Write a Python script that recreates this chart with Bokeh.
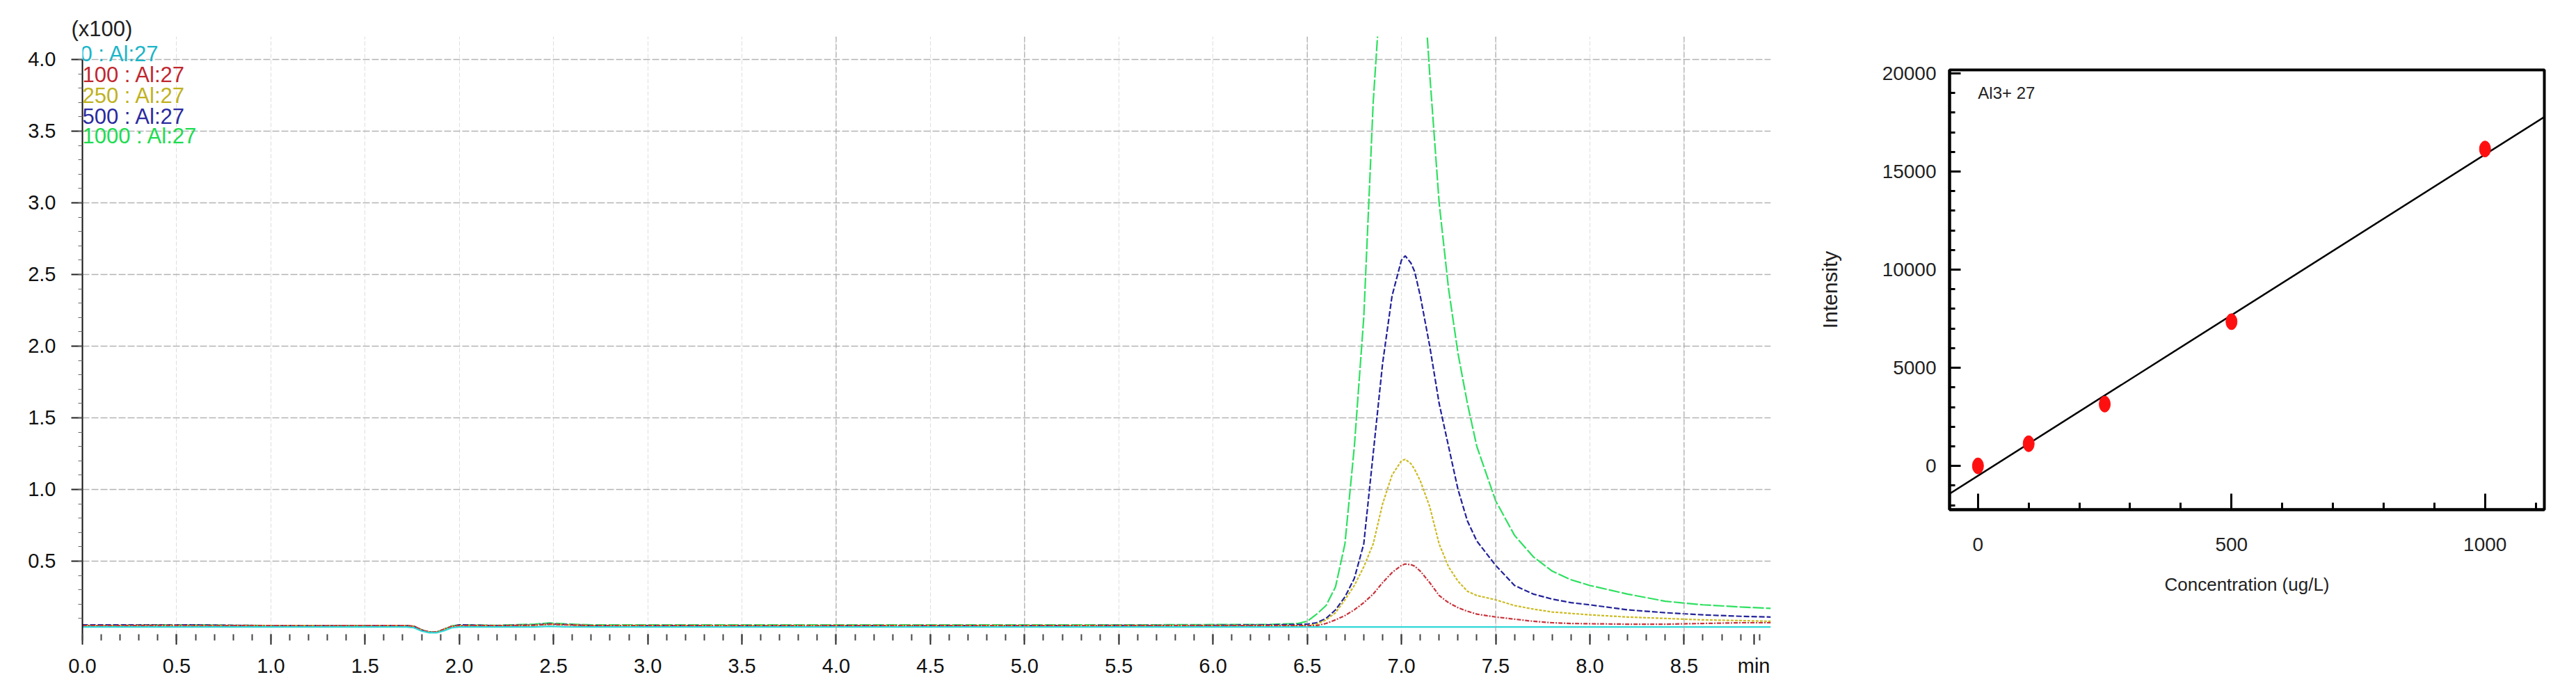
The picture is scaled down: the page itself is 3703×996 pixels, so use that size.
import numpy as np
from bokeh.plotting import figure
from bokeh.models import Range1d, FixedTicker, Label, Span, NumeralTickFormatter
from bokeh.embed import file_html
from bokeh.resources import INLINE

# ---------------- chromatogram data (intensity in x100 counts) ----------------
time_min = [0.0, 0.2, 0.4, 0.6, 0.8, 1.0, 1.2, 1.4, 1.6, 1.72, 1.76, 1.8, 1.84, 1.88, 1.92, 1.96,
            2.0, 2.2, 2.4, 2.48, 2.56, 2.7, 3.0, 3.3, 3.6, 4.0, 4.4, 4.8, 5.2, 5.6, 6.0, 6.3, 6.45,
            6.5, 6.55, 6.6, 6.65, 6.7, 6.75, 6.8, 6.85, 6.9, 6.95,
            7.0, 7.02, 7.05, 7.07, 7.1, 7.15, 7.2, 7.25, 7.3, 7.35, 7.4,
            7.5, 7.6, 7.7, 7.8, 7.9, 8.0, 8.2, 8.4, 8.6, 8.8, 8.96]

sig_0 = [0.04, 0.04, 0.04, 0.04, 0.04, 0.04, 0.04, 0.04, 0.04, 0.04, 0.035, 0.012, 0.0, 0.0, 0.015, 0.035,
         0.04, 0.04, 0.04, 0.045, 0.042, 0.04, 0.04, 0.04, 0.04, 0.04, 0.04, 0.04, 0.04, 0.04, 0.04, 0.04, 0.04,
         0.04, 0.04, 0.04, 0.04, 0.04, 0.04, 0.04, 0.04, 0.04, 0.04,
         0.04, 0.04, 0.04, 0.04, 0.04, 0.04, 0.04, 0.04, 0.04, 0.04, 0.04,
         0.04, 0.04, 0.04, 0.04, 0.04, 0.04, 0.04, 0.04, 0.04, 0.04, 0.04]

sig_100 = [0.05, 0.05, 0.05, 0.048, 0.05, 0.05, 0.048, 0.05, 0.05, 0.05, 0.045, 0.02, 0.005, 0.005, 0.025, 0.045,
           0.05, 0.05, 0.052, 0.06, 0.055, 0.05, 0.05, 0.05, 0.048, 0.05, 0.05, 0.05, 0.05, 0.05, 0.05, 0.05, 0.05,
           0.05, 0.05, 0.065, 0.09, 0.12, 0.16, 0.21, 0.27, 0.35, 0.42,
           0.47, 0.48, 0.475, 0.465, 0.43, 0.35, 0.26, 0.21, 0.175, 0.15, 0.13,
           0.11, 0.095, 0.08, 0.07, 0.065, 0.063, 0.06, 0.06, 0.065, 0.07, 0.07]

sig_250 = [0.05, 0.05, 0.052, 0.05, 0.05, 0.05, 0.05, 0.048, 0.05, 0.05, 0.045, 0.02, 0.005, 0.005, 0.025, 0.045,
           0.05, 0.05, 0.052, 0.06, 0.056, 0.05, 0.05, 0.05, 0.05, 0.05, 0.05, 0.05, 0.05, 0.05, 0.05, 0.05, 0.05,
           0.05, 0.06, 0.09, 0.14, 0.23, 0.33, 0.46, 0.62, 0.90, 1.10,
           1.20, 1.21, 1.18, 1.14, 1.06, 0.88, 0.62, 0.46, 0.36, 0.29, 0.26,
           0.23, 0.19, 0.165, 0.145, 0.135, 0.125, 0.11, 0.10, 0.09, 0.085, 0.08]

sig_500 = [0.055, 0.055, 0.055, 0.055, 0.052, 0.05, 0.05, 0.05, 0.05, 0.05, 0.045, 0.02, 0.005, 0.005, 0.025, 0.045,
           0.055, 0.05, 0.055, 0.062, 0.058, 0.05, 0.05, 0.05, 0.05, 0.05, 0.05, 0.05, 0.05, 0.052, 0.052, 0.055, 0.058,
           0.06, 0.07, 0.10, 0.16, 0.25, 0.38, 0.62, 1.25, 1.88, 2.35,
           2.60, 2.63, 2.58, 2.52, 2.35, 2.00, 1.60, 1.30, 1.00, 0.78, 0.64,
           0.47, 0.33, 0.27, 0.235, 0.21, 0.195, 0.16, 0.14, 0.125, 0.115, 0.11]

sig_1000 = [0.05, 0.052, 0.055, 0.055, 0.052, 0.05, 0.05, 0.05, 0.05, 0.05, 0.045, 0.02, 0.005, 0.005, 0.025, 0.048,
            0.055, 0.052, 0.06, 0.068, 0.062, 0.055, 0.055, 0.055, 0.055, 0.055, 0.055, 0.055, 0.055, 0.055, 0.057, 0.058, 0.065,
            0.08, 0.13, 0.19, 0.32, 0.62, 1.3, 2.2, 3.7, 4.7, 5.4,
            5.7, 5.75, 5.65, 5.5, 4.9, 3.9, 3.0, 2.4, 1.95, 1.6, 1.3,
            0.92, 0.68, 0.53, 0.43, 0.37, 0.33, 0.27, 0.22, 0.195, 0.18, 0.17]

series_labels = ["0 : Al:27", "100 : Al:27", "250 : Al:27", "500 : Al:27", "1000 : Al:27"]
x_tick_values = [0.0, 0.5, 1.0, 1.5, 2.0, 2.5, 3.0, 3.5, 4.0, 4.5, 5.0, 5.5, 6.0, 6.5, 7.0, 7.5, 8.0, 8.5]
y_tick_values = [0.5, 1.0, 1.5, 2.0, 2.5, 3.0, 3.5, 4.0]
x_unit_label = "min"
y_scale_label = "(x100)"

# ---------------- calibration data ----------------
conc = [0, 100, 250, 500, 1000]
intensity = [0, 1130, 3150, 7350, 16150]
cal_y_ticks = [0, 5000, 10000, 15000, 20000]
cal_x_ticks = [0, 500, 1000]

# ---------------- styles ----------------
line_colors = ["#2fd8d8", "#c8333b", "#cdbb22", "#22229a", "#2ee060"]
text_colors = ["#1cb5c8", "#c0282f", "#bfb21e", "#2a2aa0", "#1edc50"]
line_dashes = ["solid", "6 2 2 2", "4 2", "8 3", "16 3"]
FONT = "Liberation Sans"
unit_pos = 8.87

# ================= chromatogram =================
x_lo, x_hi = 0.0, 8.96
y_lo, y_hi = -0.01, 4.16
p1 = figure(width=2600, height=990, output_backend="svg", toolbar_location=None,
            x_range=Range1d(x_lo, x_hi), y_range=Range1d(y_lo, y_hi),
            min_border_left=118, min_border_right=55, min_border_top=52, min_border_bottom=79)
p1.styles = {"position": "absolute", "left": "0px", "top": "0px"}
p1.outline_line_color = None
p1.background_fill_color = "white"
p1.border_fill_color = "white"

# "(x100)" multiplier shown as a left-aligned title just above the frame
p1.title.text = y_scale_label
p1.title.align = "left"
p1.title.offset = -16
p1.title.standoff = -12
p1.title.text_font = FONT
p1.title.text_font_size = "31px"
p1.title.text_font_style = "normal"
p1.title.text_color = "#222222"

minor_x = [round(v, 1) for v in np.arange(0.0, 9.0, 0.1)]
minor_y = [round(v, 1) for v in np.arange(0.1, 4.1, 0.1)]
p1.xaxis.ticker = FixedTicker(ticks=x_tick_values + [unit_pos], minor_ticks=minor_x)
p1.yaxis.ticker = FixedTicker(ticks=y_tick_values, minor_ticks=minor_y)
p1.yaxis.bounds = (y_lo, y_tick_values[-1])
p1.xaxis.formatter = NumeralTickFormatter(format="0.0")
p1.xaxis.major_label_overrides = {unit_pos: x_unit_label}
p1.yaxis.formatter = NumeralTickFormatter(format="0.0")
p1.xaxis.axis_line_color = None
p1.xaxis.major_tick_out = 15
p1.xaxis.major_tick_in = 0
p1.xaxis.minor_tick_out = 9
p1.xaxis.minor_tick_in = 0
p1.xaxis.major_tick_line_width = 2
p1.xaxis.minor_tick_line_width = 2
p1.xaxis.major_tick_line_color = "#222222"
p1.xaxis.minor_tick_line_color = "#444444"
p1.xaxis.major_label_standoff = 14
p1.xaxis.major_label_text_font = FONT
p1.xaxis.major_label_text_font_size = "29px"
p1.xaxis.major_label_text_color = "#111111"

p1.yaxis.axis_line_color = "#111111"
p1.yaxis.axis_line_width = 2
p1.yaxis.major_tick_out = 16
p1.yaxis.major_tick_in = 0
p1.yaxis.minor_tick_out = 6
p1.yaxis.minor_tick_in = 0
p1.yaxis.major_tick_line_width = 2
p1.yaxis.minor_tick_line_width = 1
p1.yaxis.major_tick_line_color = "#222222"
p1.yaxis.minor_tick_line_color = "#666666"
p1.yaxis.major_label_standoff = 22
p1.yaxis.major_label_text_font = FONT
p1.yaxis.major_label_text_font_size = "29px"
p1.yaxis.major_label_text_color = "#111111"

p1.ygrid.ticker = FixedTicker(ticks=y_tick_values)
p1.ygrid.grid_line_color = "#b4b4b4"
p1.ygrid.grid_line_dash = "10 3"
p1.ygrid.grid_line_width = 1.5
p1.xgrid.ticker = FixedTicker(ticks=x_tick_values)
p1.xgrid.grid_line_color = "#dedede"
p1.xgrid.grid_line_dash = "6 3"
p1.xgrid.grid_line_width = 1

strong_grid = [4.0, 5.0, 6.5, 7.5, 8.5]
for xv in strong_grid:
    p1.add_layout(Span(location=xv, dimension="height", line_color="#a8a8a8",
                       line_dash="8 3", line_width=1.2))

signals = [sig_0, sig_100, sig_250, sig_500, sig_1000]
for idx in [4, 3, 2, 1, 0]:
    p1.line(time_min, signals[idx], line_color=line_colors[idx], line_width=2.2,
            line_dash=line_dashes[idx])

# legend-like labels (stacked at top-left)
legend_y = [4.04, 3.893, 3.748, 3.602, 3.466]
legend_dx = [-3, 0, 0, 0, 0]
for i, txt in enumerate(series_labels):
    p1.add_layout(Label(x=0.0, y=legend_y[i], x_offset=legend_dx[i], text=txt,
                        text_color=text_colors[i], text_font=FONT, text_font_size="31px",
                        text_baseline="middle", text_align="left",
                        background_fill_color="white", background_fill_alpha=0.0))

# ================= calibration curve =================
cx_lo, cx_hi = -56, 1117
p2 = figure(width=1103, height=990, output_backend="svg", toolbar_location=None,
            x_range=Range1d(cx_lo, cx_hi), y_range=Range1d(-2230, 20180),
            min_border_left=202, min_border_right=46, min_border_top=100, min_border_bottom=258)
p2.styles = {"position": "absolute", "left": "2600px", "top": "0px"}
p2.outline_line_color = "black"
p2.outline_line_width = 4
p2.grid.visible = False
p2.background_fill_color = "white"
p2.border_fill_color = "white"

p2.xaxis.ticker = FixedTicker(ticks=cal_x_ticks, minor_ticks=list(range(0, 1200, 100)))
p2.yaxis.ticker = FixedTicker(ticks=cal_y_ticks, minor_ticks=list(range(-2000, 20001, 1000)))
for ax in (p2.xaxis[0], p2.yaxis[0]):
    ax.axis_line_color = "black"
    ax.axis_line_width = 4
    ax.major_tick_out = 0
    ax.minor_tick_out = 0
    ax.major_tick_line_width = 3
    ax.minor_tick_line_width = 3
    ax.major_tick_line_color = "black"
    ax.minor_tick_line_color = "black"
    ax.major_label_text_font = FONT
    ax.major_label_text_font_size = "28px"
    ax.major_label_text_color = "#222222"
    ax.axis_label_text_font = FONT
    ax.axis_label_text_font_style = "normal"
    ax.axis_label_text_color = "#222222"
p2.xaxis.major_tick_in = 23
p2.xaxis.minor_tick_in = 10
p2.yaxis.major_tick_in = 16
p2.yaxis.minor_tick_in = 8
p2.xaxis.major_label_standoff = 40
p2.yaxis.major_label_standoff = 19
p2.xaxis.axis_label = "Concentration (ug/L)"
p2.xaxis.axis_label_text_font_size = "26px"
p2.xaxis.axis_label_standoff = 30
p2.yaxis.axis_label = "Intensity"
p2.yaxis.axis_label_text_font_size = "30px"
p2.yaxis.axis_label_standoff = 56

slope, intercept = np.polyfit(conc, intensity, 1)
fit_x = np.array([cx_lo, cx_hi], dtype=float)
p2.line(fit_x, slope * fit_x + intercept, line_color="black", line_width=2.5)
p2.ellipse(x=conc, y=intensity, width=16, height=23, width_units="screen",
           height_units="screen", fill_color="#ff1010", line_color="#ff1010")

p2.add_layout(Label(x=0, y=19000, text="Al3+ 27", text_font=FONT, text_font_size="24px",
                    text_color="#222222", text_baseline="middle", text_align="left"))

open("out.html", "w").write(file_html([p1, p2], INLINE))
